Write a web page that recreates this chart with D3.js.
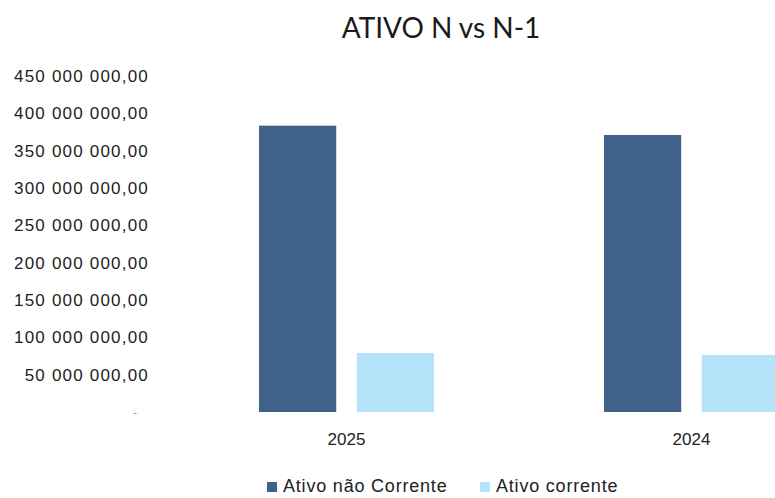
<!DOCTYPE html>
<html>
<head>
<meta charset="utf-8">
<script src="https://cdn.jsdelivr.net/npm/d3@7"></script>
<style>
  body { margin: 0; background: #fff; }
  svg { display: block; }
</style>
</head>
<body>
<div id="chart"></div>
<script>
// data
const categories = ["2025", "2024"];
const seriesNames = ["Ativo não Corrente", "Ativo corrente"];
const ativoNaoCorrente = [383500000, 371000000];
const ativoCorrente = [79000000, 76500000];
const yTicks = [0, 50000000, 100000000, 150000000, 200000000, 250000000, 300000000, 350000000, 400000000, 450000000];
const colors = ["#40618a", "#b5e4fa"];

const width = 775, height = 498;
const svg = d3.select("#chart").append("svg")
  .attr("width", width).attr("height", height);

// title
svg.append("text")
  .attr("x", 441).attr("y", 38)
  .attr("text-anchor", "middle")
  .style("font-family", "Lato, sans-serif")
  .style("font-size", "28px")
  .style("fill", "#1a1a1a")
  .text("ATIVO N vs N-1");

// scales - the plot runs past the right edge of the picture (cropped)
const x0 = d3.scaleBand().domain(categories).range([174, 864]).paddingInner(0).paddingOuter(0);
const x1 = d3.scaleBand().domain(seriesNames).range([85, 260]).paddingInner(0.21);
const y = d3.scaleLinear().domain([0, 450000000]).range([412, 76]);

const fmt = v => v === 0 ? "-" :
  d3.format(",.2f")(v).replace(/,/g, " ").replace(/\.(\d+)$/, ",$1");

// y axis labels
const yAxis = d3.axisLeft(y).tickValues(yTicks).tickSize(0).tickFormat(fmt);
const gy = svg.append("g").attr("transform", "translate(149,0)").call(yAxis);
gy.select(".domain").remove();
gy.selectAll("text")
  .attr("x", 0)
  .style("font-family", "'Liberation Sans', Arial, sans-serif")
  .style("font-size", "17px")
  .style("letter-spacing", "1.2px")
  .style("fill", "#222");
gy.selectAll(".tick").filter(d => d === 0).select("text")
  .attr("x", -11).style("font-size", "11px").style("fill", "#888");

// bars
const rows = categories.map((c, i) => ({cat: c, vals: [ativoNaoCorrente[i], ativoCorrente[i]]}));
const groups = svg.append("g").selectAll("g").data(rows).join("g")
  .attr("transform", d => `translate(${x0(d.cat)},0)`);
groups.selectAll("rect")
  .data(d => d.vals.map((v, j) => ({name: seriesNames[j], v: v, j: j})))
  .join("rect")
  .attr("x", d => x1(d.name))
  .attr("y", d => y(d.v))
  .attr("width", x1.bandwidth())
  .attr("height", d => y(0) - y(d.v))
  .attr("fill", d => colors[d.j]);

// x axis labels
const xAxis = d3.axisBottom(x0).tickSize(0).tickPadding(0);
const gx = svg.append("g").attr("transform", "translate(0,433)").call(xAxis);
gx.select(".domain").remove();
gx.selectAll("text")
  .style("font-family", "'Liberation Sans', Arial, sans-serif")
  .style("font-size", "17px")
  .style("fill", "#222");

// legend
const legendX = [267, 480];
const lg = svg.append("g").selectAll("g").data(seriesNames).join("g")
  .attr("transform", (d, i) => `translate(${legendX[i]},492)`);
lg.append("rect").attr("width", 10).attr("height", 10).attr("y", -10)
  .attr("fill", (d, i) => colors[i]);
lg.append("text").attr("x", 16).attr("y", 0)
  .style("font-family", "'Liberation Sans', Arial, sans-serif")
  .style("font-size", "18px")
  .style("letter-spacing", "0.8px")
  .style("fill", "#222")
  .text(d => d);
</script>
</body>
</html>
